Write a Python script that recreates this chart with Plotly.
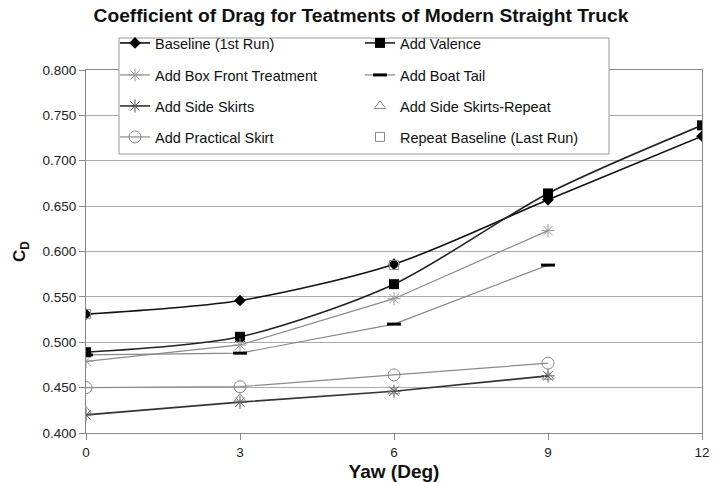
import plotly.graph_objects as go

yaw = [0, 3, 6, 9, 12]
yaw9 = [0, 3, 6, 9]
yaw_rep = [0, 6]

baseline = [0.531, 0.546, 0.586, 0.657, 0.727]
valence = [0.489, 0.506, 0.564, 0.664, 0.739]
box_front = [0.479, 0.497, 0.548, 0.623]
boat_tail = [0.486, 0.488, 0.520, 0.585]
side_skirts = [0.420, 0.434, 0.446, 0.463]
side_skirts_rep = [0.424, 0.438, 0.446, 0.462]
practical = [0.450, 0.451, 0.464, 0.477]
repeat_baseline = [0.531, 0.585]

series = [
    dict(name="Baseline (1st Run)", x=yaw, y=baseline, mode="lines+markers",
         line=dict(color="#111", width=1.6, shape="spline", smoothing=0.8),
         marker=dict(symbol="diamond", size=9, color="#000")),
    dict(name="Add Valence", x=yaw, y=valence, mode="lines+markers",
         line=dict(color="#222", width=1.6, shape="spline", smoothing=0.8),
         marker=dict(symbol="square", size=10, color="#000")),
    dict(name="Add Box Front Treatment", x=yaw9, y=box_front, mode="lines+markers",
         line=dict(color="#8a8a8a", width=1.2),
         marker=dict(symbol="asterisk-open", size=11, color="#999", line=dict(width=1, color="#999"))),
    dict(name="Add Boat Tail", x=yaw9, y=boat_tail, mode="lines+markers",
         line=dict(color="#888", width=1.2),
         marker=dict(symbol="line-ew-open", size=10, color="#000", line=dict(width=3, color="#000"))),
    dict(name="Add Side Skirts", x=yaw9, y=side_skirts, mode="lines+markers",
         line=dict(color="#333", width=1.6),
         marker=dict(symbol="asterisk-open", size=11, color="#555", line=dict(width=1, color="#555"))),
    dict(name="Add Side Skirts-Repeat", x=yaw9, y=side_skirts_rep, mode="markers",
         marker=dict(symbol="triangle-up-open", size=10, color="#888", line=dict(width=1, color="#888"))),
    dict(name="Add Practical Skirt", x=yaw9, y=practical, mode="lines+markers",
         line=dict(color="#8a8a8a", width=1.2),
         marker=dict(symbol="circle-open", size=12, color="#888", line=dict(width=1, color="#888"))),
    dict(name="Repeat Baseline (Last Run)", x=yaw_rep, y=repeat_baseline, mode="markers",
         marker=dict(symbol="square-open", size=9, color="#888", line=dict(width=1, color="#888"))),
]

# plot area in pixels: x 86..702, y 70..433
def px_x(p):
    return (p - 86) / 616.0

def px_y(p):
    return (433 - p) / 363.0

col_x = [px_x(115), px_x(360)]
row_y = [px_y(43), px_y(75), px_y(106), px_y(137)]

font_family = "Liberation Sans, Arial, sans-serif"

fig = go.Figure()
layout_legends = {}
for i, s in enumerate(series):
    key = "legend" if i == 0 else f"legend{i + 1}"
    fig.add_trace(go.Scatter(**s, legend=key))
    layout_legends[key] = dict(
        x=col_x[i % 2], y=row_y[i // 2], xanchor="left", yanchor="middle",
        bgcolor="rgba(0,0,0,0)", borderwidth=0, itemwidth=30, itemsizing="trace",
        font=dict(size=14.5, color="#111", family=font_family),
    )

fig.update_layout(
    width=722, height=482,
    margin=dict(l=86, r=20, t=70, b=49, autoexpand=False),
    paper_bgcolor="white", plot_bgcolor="white",
    font=dict(family=font_family, size=13, color="#222"),
    title=dict(text="<b>Coefficient of Drag for Teatments of Modern Straight Truck</b>",
               x=0.5, xanchor="center", y=0.968, yanchor="middle",
               font=dict(size=19.2, color="#111", family=font_family)),
    showlegend=True,
    shapes=[dict(type="rect", xref="paper", yref="paper",
                 x0=px_x(119), x1=px_x(609), y0=px_y(154), y1=px_y(38),
                 line=dict(color="#999", width=1), fillcolor="white", layer="above")],
    xaxis=dict(range=[0, 12], tickvals=[0, 3, 6, 9, 12], showgrid=False, automargin=False,
               showline=True, linecolor="#888", linewidth=1.2, mirror=True,
               ticks="outside", ticklen=6, tickcolor="#888", ticklabelstandoff=1,
               title=dict(text="<b>Yaw (Deg)</b>", font=dict(size=19, color="#111"), standoff=6),
               tickfont=dict(size=13.5, color="#222"), zeroline=False),
    yaxis=dict(range=[0.4, 0.8], tickvals=[0.4, 0.45, 0.5, 0.55, 0.6, 0.65, 0.7, 0.75, 0.8],
               tickformat=".3f", showgrid=True, gridcolor="#aaa", gridwidth=1, automargin=False,
               showline=True, linecolor="#888", linewidth=1.2, mirror=True,
               ticks="outside", ticklen=6, tickcolor="#888",
               title=dict(text="<b>C<sub>D</sub></b>", font=dict(size=17, color="#111"), standoff=12),
               tickfont=dict(size=13.5, color="#222"), zeroline=False),
    **layout_legends,
)

fig.write_html("out.html", config={"displayModeBar": False},
               post_script="document.body.style.margin='0';")
